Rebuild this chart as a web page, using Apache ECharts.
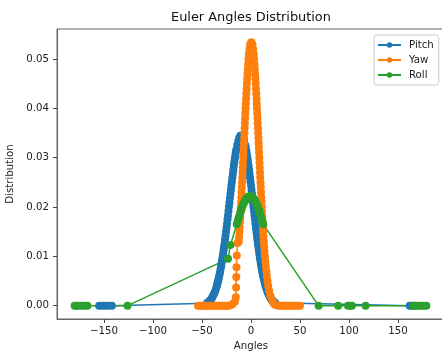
<!DOCTYPE html>
<html>
<head>
<meta charset="utf-8">
<script src="https://cdn.jsdelivr.net/npm/echarts@6.0.0/dist/echarts.min.js"></script>
<style>
  html, body { margin: 0; padding: 0; background: #fff; }
  #chart { width: 442px; height: 351px; }
</style>
</head>
<body>
<div id="chart"></div>
<script>
// axis ticks
const xTicks = [-150, -100, -50, 0, 50, 100, 150]
const yTicks = [0, 0.01, 0.02, 0.03, 0.04, 0.05]
const seriesNames = ["Pitch", "Yaw", "Roll"]
const colors = ["#1f77b4", "#ff7f0e", "#2ca02c"]

// Pitch
const pitchX = [
  -155, -152, -149, -146, -142,
  -45, -44, -43, -42, -41, -40, -39, -38, -37, -36, -35,
  -34.5, -34, -33.5, -33, -32.5, -32, -31.5, -31, -30.5, -30, -29.5, -29, -28.5, -28, -27.5, -27,
  -26.5, -26, -25.5, -25, -24.5, -24, -23.5, -23, -22.5, -22, -21.5, -21, -20.5, -20, -19.5, -19,
  -18.5, -18, -17.5, -17, -16.5, -16, -15.5, -15,
  -14, -13, -12, -11, -10, -9, -8, -7, -6,
  -5.5, -5, -4.5, -4, -3.5, -3, -2.5, -2, -1.5, -1, -0.5, 0, 0.5, 1, 1.5, 2, 2.5, 3, 3.5, 4,
  4.5, 5, 5.5, 6, 6.5, 7, 7.5, 8, 8.5, 9, 9.5, 10, 10.5, 11, 11.5, 12, 12.5, 13, 13.5, 14, 14.5, 15,
  16, 17, 18, 19, 20, 21, 22, 23, 24, 25,
  162, 164, 167
]
const pitchY = [
  0, 0, 0, 0, 0,
  0.0005, 0.0006, 0.0008, 0.0010, 0.0012, 0.0015, 0.0019, 0.0023, 0.0027, 0.0033, 0.0039,
  0.0043, 0.0047, 0.0051, 0.0055, 0.0059, 0.0064, 0.0069, 0.0075, 0.0080, 0.0086, 0.0092, 0.0098, 0.0105, 0.0112, 0.0119, 0.0126,
  0.0134, 0.0142, 0.0150, 0.0158, 0.0166, 0.0175, 0.0183, 0.0192, 0.0201, 0.0209, 0.0218, 0.0227, 0.0235, 0.0244, 0.0252, 0.0260,
  0.0268, 0.0276, 0.0284, 0.0291, 0.0298, 0.0304, 0.0311, 0.0316,
  0.0326, 0.0334, 0.0340, 0.0344, 0.0345, 0.0344, 0.0340, 0.0334, 0.0326,
  0.0322, 0.0316, 0.0311, 0.0304, 0.0298, 0.0291, 0.0284, 0.0276, 0.0268, 0.0260, 0.0252, 0.0244, 0.0235, 0.0227, 0.0218, 0.0209, 0.0201, 0.0192, 0.0183, 0.0175,
  0.0166, 0.0158, 0.0150, 0.0142, 0.0134, 0.0126, 0.0119, 0.0112, 0.0105, 0.0098, 0.0092, 0.0086, 0.0080, 0.0075, 0.0069, 0.0064, 0.0059, 0.0055, 0.0051, 0.0047, 0.0043, 0.0039,
  0.0033, 0.0027, 0.0023, 0.0019, 0.0015, 0.0012, 0.0010, 0.0008, 0.0006, 0.0005,
  0, 0, 0
]

// Yaw (orange curve)
const yawX = [
  -54, -52, -51, -49, -47, -45, -43, -41, -39, -37, -35, -33, -31, -29, -27, -25, -23, -21, -19,
  -16.5, -15.5, -15.2, -15.0, -14.8, -14.5, -13.8,
  -12.50, -12.16, -11.84, -11.53, -11.23, -10.94, -10.66, -10.38, -10.11, -9.85, -9.60, -9.35, -9.10, -8.85,
  -8.61, -8.37, -8.14, -7.90, -7.67, -7.43, -7.20, -6.97, -6.73, -6.50, -6.26, -6.02, -5.78, -5.53,
  -5.28, -5.03, -4.77, -4.50, -4.22, -3.93, -3.62, -3.30, -2.95, -2.57, -2.14, -1.63, -0.93,
  0.30,
  1.53, 2.23, 2.74, 3.17, 3.55, 3.90, 4.22, 4.53, 4.82, 5.10, 5.37, 5.63, 5.88, 6.13, 6.38, 6.62,
  6.86, 7.10, 7.33, 7.57, 7.80, 8.03, 8.27, 8.50, 8.74, 8.97, 9.21, 9.45, 9.70, 9.95, 10.20, 10.45,
  10.71, 10.98, 11.26, 11.54, 11.83, 12.13, 12.44, 12.76, 13.10, 13.46, 13.83, 14.23, 14.66, 15.13,
  15.64, 16.21, 16.86, 17.62, 18.56, 19.80, 21.75,
  23, 24.5, 26, 28, 30, 32, 34, 36, 38, 40, 42, 44, 46, 48, 50
]
const yawY = [
  0, 0, 0, 0, 0, 0, 0, 0, 0, 0, 0, 0, 0, 0, 0, 0, 0, 0.0001, 0.0003,
  0.0008, 0.0017, 0.0037, 0.0058, 0.0078, 0.0102, 0.0127,
  0.013, 0.014, 0.015, 0.016, 0.017, 0.018, 0.019, 0.020, 0.021, 0.022, 0.023, 0.024, 0.025, 0.026,
  0.027, 0.028, 0.029, 0.030, 0.031, 0.032, 0.033, 0.034, 0.035, 0.036, 0.037, 0.038, 0.039, 0.040,
  0.041, 0.042, 0.043, 0.044, 0.045, 0.046, 0.047, 0.048, 0.049, 0.050, 0.051, 0.052, 0.053,
  0.0534,
  0.053, 0.052, 0.051, 0.050, 0.049, 0.048, 0.047, 0.046, 0.045, 0.044, 0.043, 0.042, 0.041, 0.040, 0.039, 0.038,
  0.037, 0.036, 0.035, 0.034, 0.033, 0.032, 0.031, 0.030, 0.029, 0.028, 0.027, 0.026, 0.025, 0.024, 0.023, 0.022,
  0.021, 0.020, 0.019, 0.018, 0.017, 0.016, 0.015, 0.014, 0.013, 0.012, 0.011, 0.010, 0.009, 0.008,
  0.007, 0.006, 0.005, 0.004, 0.003, 0.002, 0.001,
  0.0005, 0.0002, 0.0001, 0, 0, 0, 0, 0, 0, 0, 0, 0, 0, 0, 0
]

// Roll (green, sparse)
const rollX = [
  -180, -178, -176, -173, -170, -167, -126, -23.5, -21,
  -14.5, -13.5, -12.5, -11.5, -10.5, -9.5, -8.5, -7.5, -6.5, -5.5, -4.5, -3.5, -2.5, -1.5,
  -0.5, 0.5, 1.5, 2.5, 3.5, 4.5, 5.5, 6.5, 7.5, 8.5, 9.5, 10.5, 11.5, 12.5,
  69, 89, 99, 101, 103, 117, 166, 168, 170, 173, 176, 179
]
const rollY = [
  0, 0, 0, 0, 0, 0, 0, 0.0095, 0.0123,
  0.0165, 0.0172, 0.0179, 0.0185, 0.0192, 0.0197, 0.0203, 0.0207, 0.0211, 0.0215, 0.0218, 0.0220, 0.0221, 0.0222,
  0.0222, 0.0221, 0.0220, 0.0218, 0.0215, 0.0211, 0.0207, 0.0203, 0.0197, 0.0192, 0.0185, 0.0179, 0.0172, 0.0165,
  0, 0, 0, 0, 0, 0, 0, 0, 0, 0, 0, 0
]

const zip = (xs, ys) => xs.map((x, i) => [x, ys[i]])
const FONT = "DejaVu Sans"
const fmtX = (v) => (v < 0 ? "\u2212" + Math.abs(v) : String(v))

const chart = echarts.init(document.getElementById("chart"))

const lineSeries = (name, xs, ys, i) => ({
  name: name,
  type: "line",
  data: zip(xs, ys),
  symbol: "circle",
  symbolSize: 8,
  showAllSymbol: true,
  lineStyle: { width: 1.5, color: colors[i] },
  itemStyle: { color: colors[i] },
  emphasis: { disabled: true },
})

const option = {
  animation: false,
  color: colors,
  title: {
    text: "Euler Angles Distribution",
    left: 166,
    top: 6,
    textStyle: { fontFamily: FONT, fontSize: 12.9, fontWeight: "normal", color: "#111" },
  },
  legend: {
    data: seriesNames,
    orient: "vertical",
    left: 374,
    top: 35,
    itemWidth: 23,
    itemHeight: 7,
    itemGap: 5,
    padding: [5, 5, 5, 3],
    borderColor: "#ccc",
    borderWidth: 1,
    borderRadius: 3,
    backgroundColor: "rgba(255,255,255,0.8)",
    textStyle: { fontFamily: FONT, fontSize: 10.2, color: "#222", padding: [0, 0, 0, 3] },
  },
  grid: {
    left: 57,
    right: -3,
    top: 29,
    bottom: 32,
    outerBoundsMode: "none",
    containLabel: false,
    show: true,
    borderColor: "#666",
    borderWidth: 1,
  },
  xAxis: {
    type: "value",
    min: -198,
    max: 198,
    name: "Angles",
    nameLocation: "middle",
    nameGap: 21,
    nameTextStyle: { fontFamily: FONT, fontSize: 10.2, color: "#222" },
    axisLine: { onZero: false, lineStyle: { color: "#666", width: 1 } },
    axisTick: { show: true, length: 4, customValues: xTicks, lineStyle: { color: "#444" } },
    axisLabel: { customValues: xTicks, formatter: fmtX, margin: 7, fontFamily: FONT, fontSize: 10.2, color: "#222" },
    splitLine: { show: false },
  },
  yAxis: {
    type: "value",
    min: -0.0027,
    max: 0.0561,
    name: "Distribution",
    nameLocation: "middle",
    nameRotate: 90,
    nameGap: 35,
    nameTextStyle: { fontFamily: FONT, fontSize: 10.2, color: "#222" },
    axisLine: { show: true, onZero: false, lineStyle: { color: "#666", width: 1 } },
    axisTick: { show: true, length: 4, customValues: yTicks, lineStyle: { color: "#444" } },
    axisLabel: { customValues: yTicks, formatter: (v) => v.toFixed(2), margin: 8, fontFamily: FONT, fontSize: 10.2, color: "#222" },
    splitLine: { show: false },
  },
  series: [
    lineSeries("Pitch", pitchX, pitchY, 0),
    lineSeries("Yaw", yawX, yawY, 1),
    lineSeries("Roll", rollX, rollY, 2),
  ],
}

chart.setOption(option)
</script>
</body>
</html>
